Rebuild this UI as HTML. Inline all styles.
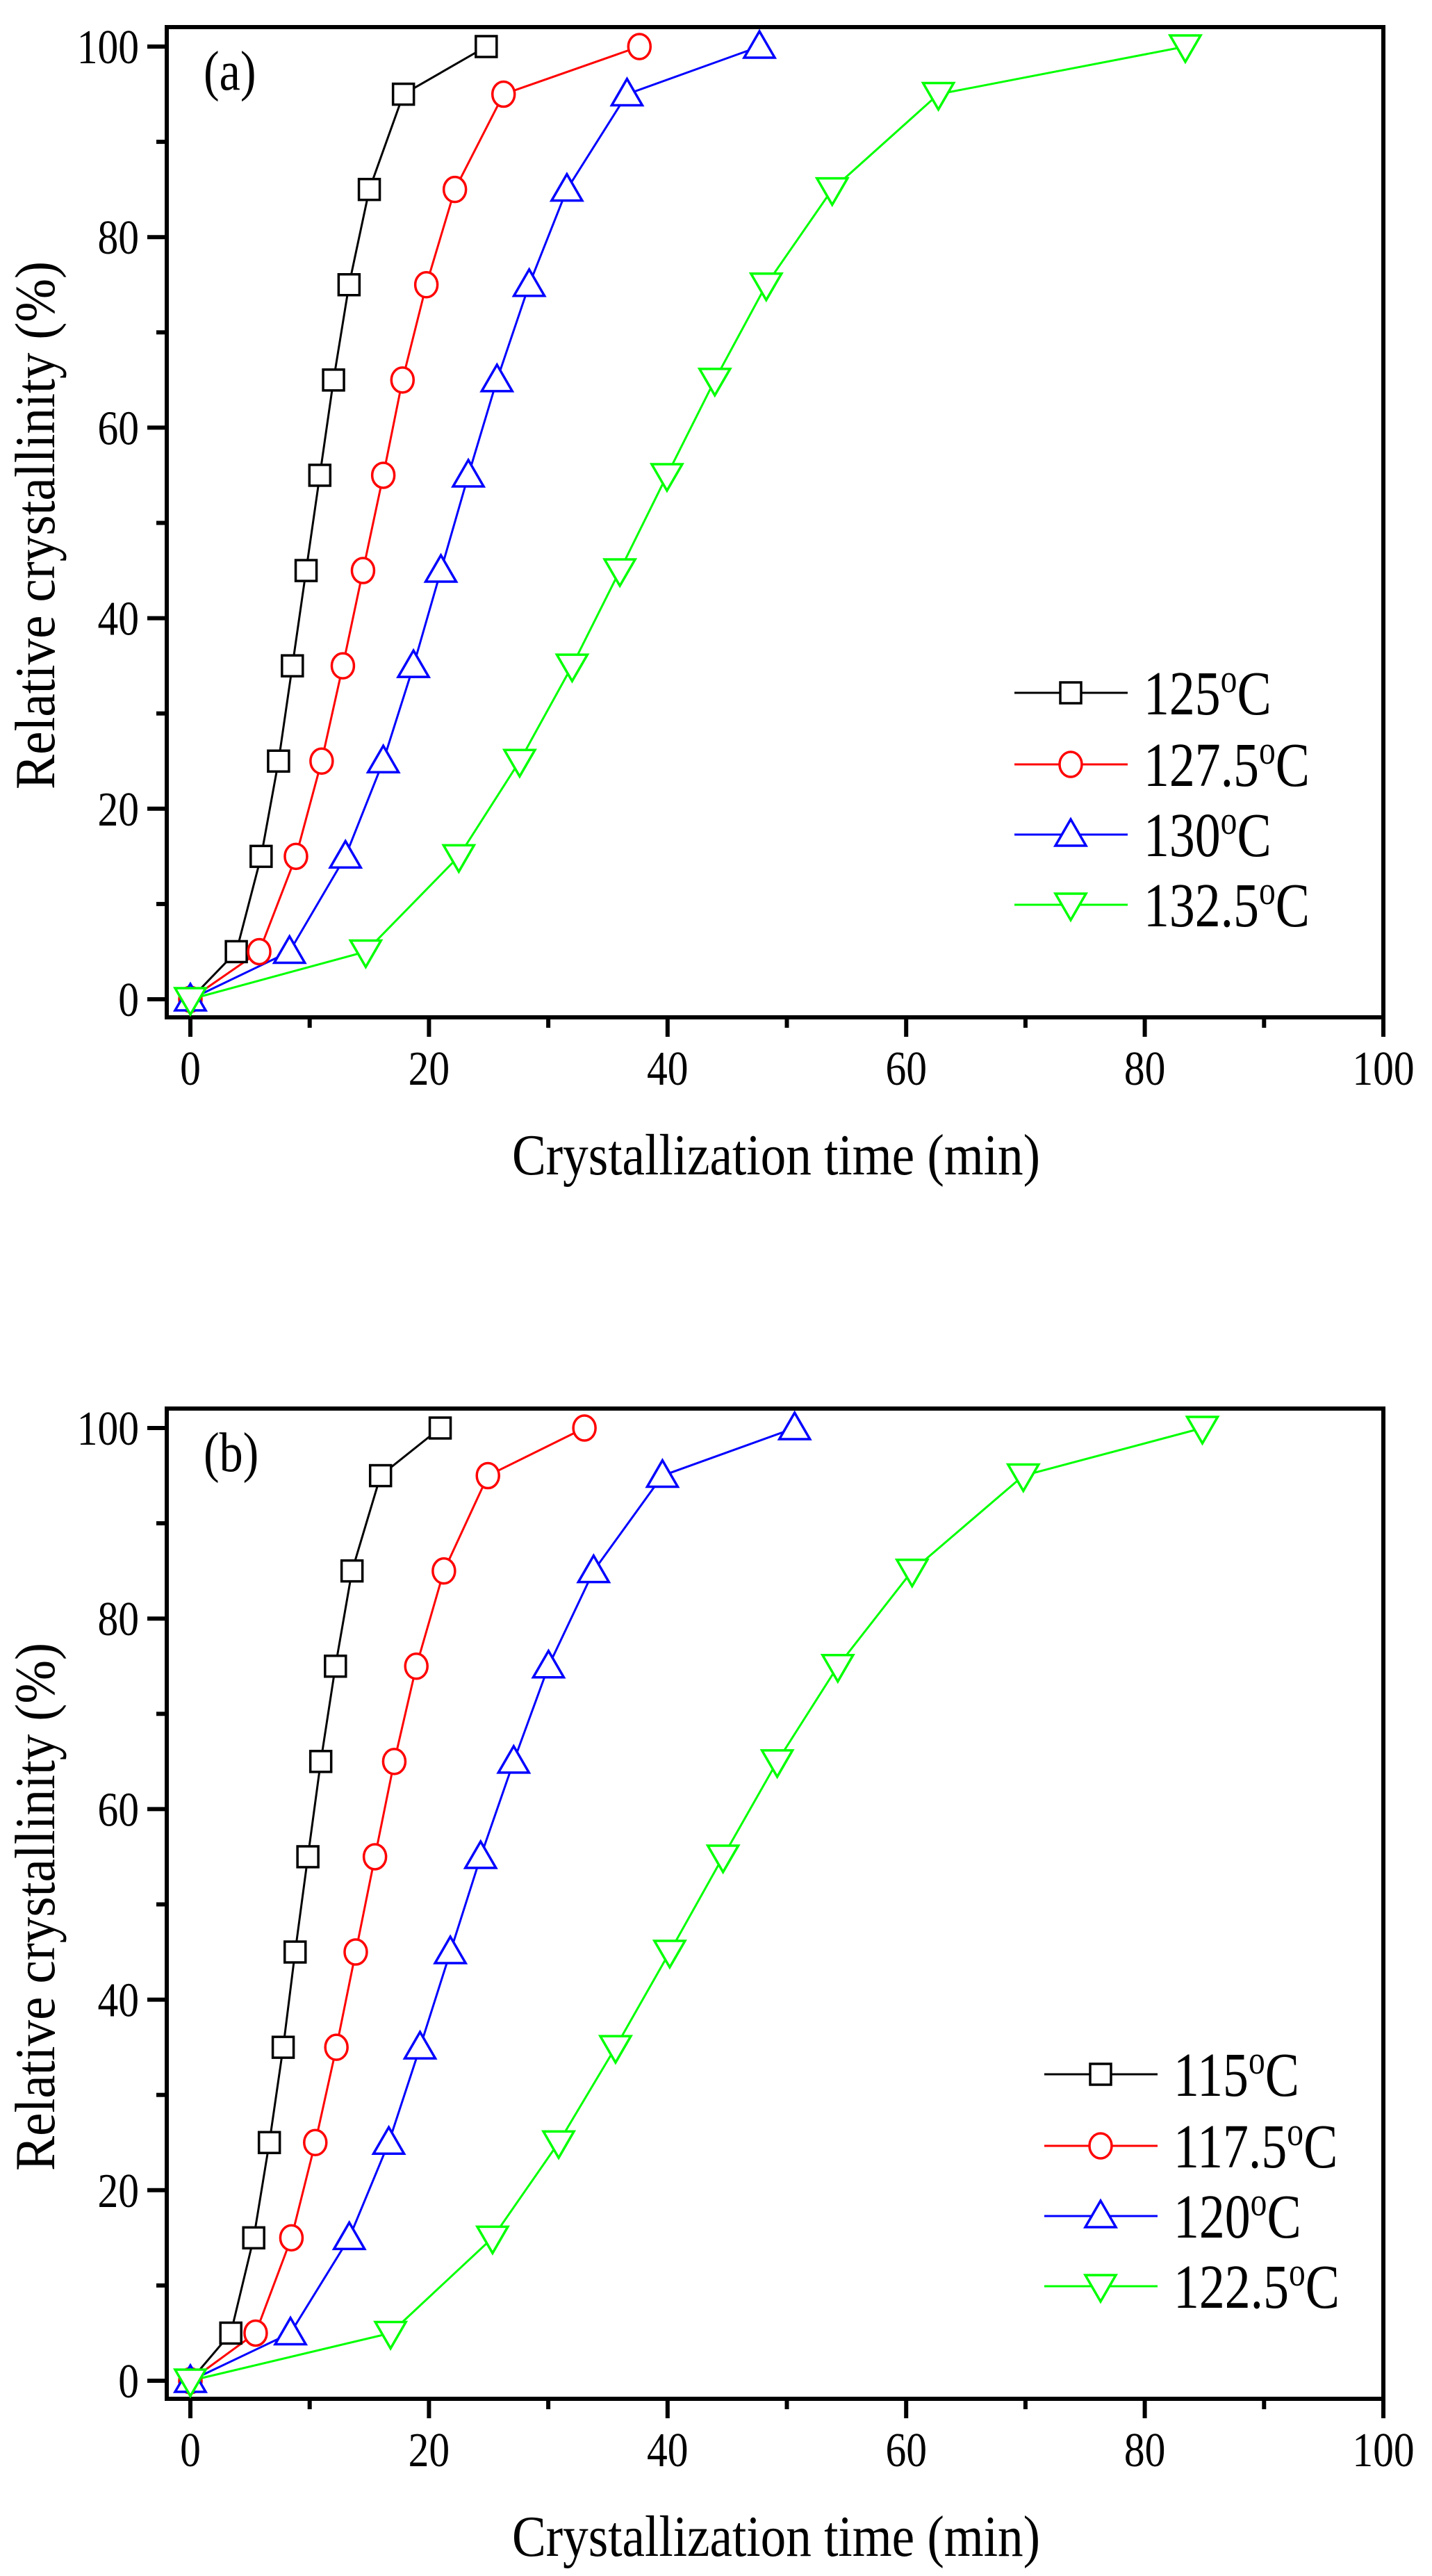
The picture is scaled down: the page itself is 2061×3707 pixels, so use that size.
<!DOCTYPE html>
<html><head><meta charset="utf-8"><style>
html,body{margin:0;padding:0;background:#fff;}
svg{display:block;}
text{font-family:"Liberation Serif",serif;fill:#000;}
</style></head><body>
<svg id="s" width="2061" height="3707" viewBox="0 0 2061 3707" xmlns="http://www.w3.org/2000/svg"></svg>
<script>
const NS="http://www.w3.org/2000/svg";
const s=document.getElementById('s');
function el(t,a,txt){const e=document.createElementNS(NS,t);for(const k in a)e.setAttribute(k,a[k]);if(txt!==undefined)e.textContent=txt;s.appendChild(e);return e;}
const X=t=>274+17.17*t;
const lv=[0,5,15,25,35,45,55,65,75,85,95,100];
const cols=['#000','#f00','#00f','#0f0'];
const panels=[
{off:0,lab:'(a)',leg:['125','127.5','130','132.5'],lx:1460,
 d:[[0,3.85,5.93,7.39,8.55,9.7,10.85,12.0,13.3,15.0,17.86,24.8],
    [0,5.77,8.85,11.0,12.78,14.47,16.17,17.78,19.78,22.17,26.25,37.64],
    [0,8.31,13.0,16.17,18.7,21.0,23.3,25.7,28.4,31.56,36.6,47.7],
    [0,14.7,22.5,27.6,32.0,36.0,39.95,43.96,48.27,53.8,62.7,83.4]]},
{off:1988,lab:'(b)',leg:['115','117.5','120','122.5'],lx:1503,
 d:[[0,3.39,5.31,6.62,7.78,8.78,9.85,10.93,12.16,13.55,15.94,20.94],
    [0,5.47,8.47,10.47,12.24,13.86,15.47,17.09,18.94,21.25,24.94,33.03],
    [0,8.39,13.32,16.63,19.25,21.79,24.33,27.1,30.02,33.8,39.57,50.65],
    [0,16.78,25.33,30.87,35.64,40.18,44.65,49.19,54.27,60.5,69.82,84.83]]}];
function marker(k,x,y){
 const st={fill:'#fff',stroke:cols[k],'stroke-width':3.5};
 if(k==0){el('rect',Object.assign({x:x-15,y:y-15,width:30,height:30},st));}
 else if(k==1){el('ellipse',Object.assign({cx:x,cy:y,rx:16,ry:18},st));}
 else if(k==2){el('polygon',Object.assign({points:`${x},${y-22} ${x-22},${y+16} ${x+22},${y+16}`},st));}
 else {el('polygon',Object.assign({points:`${x},${y+22} ${x-22},${y-16} ${x+22},${y-16}`},st));}
}
for(const p of panels){
 const o=p.off, Y=v=>1438-13.71*v+o;
 const top=39+o, bot=1464+o, L=240, R=1991;
 for(let t=0;t<=100;t+=10){const major=t%20==0;el('line',{x1:X(t),x2:X(t),y1:bot,y2:bot+(major?28:15),stroke:'#000','stroke-width':6});
  if(major)el('text',{x:0,y:0,'font-size':70,'text-anchor':'middle',transform:`translate(${X(t)},${1561+o}) scale(0.85,1)`},String(t));}
 for(let v=0;v<=100;v+=10){const major=v%20==0;el('line',{x1:L,x2:L-(major?28:15),y1:Y(v),y2:Y(v),stroke:'#000','stroke-width':6});
  if(major)el('text',{x:0,y:0,'font-size':70,'text-anchor':'end',transform:`translate(200,${Y(v)+24}) scale(0.85,1)`},String(v));}
 el('rect',{x:L,y:top,width:R-L,height:bot-top,fill:'none',stroke:'#000','stroke-width':6});
 el('text',{x:0,y:0,'font-size':80,transform:`translate(293,${129+o}) scale(0.85,1)`},p.lab);
 el('text',{x:1117,y:1690+o,'font-size':84,'text-anchor':'middle',textLength:760,lengthAdjust:'spacingAndGlyphs'},'Crystallization time (min)');
 el('text',{x:0,y:0,'font-size':82,'text-anchor':'middle',textLength:760,lengthAdjust:'spacingAndGlyphs',transform:`translate(78,${756+o}) rotate(-90)`},'Relative crystallinity (%)');
 for(let k=0;k<4;k++){
  const pts=p.d[k].map((t,i)=>`${X(t)},${Y(lv[i])}`).join(' ');
  el('polyline',{points:pts,fill:'none',stroke:cols[k],'stroke-width':3});
 }
 for(let k=0;k<4;k++)p.d[k].forEach((t,i)=>marker(k,X(t),Y(lv[i])));
 const ry=[997,1100,1201,1302];
 for(let k=0;k<4;k++){const y=ry[k]+o;
  el('line',{x1:p.lx,x2:p.lx+163,y1:y,y2:y,stroke:cols[k],'stroke-width':3});
  marker(k,p.lx+81,y);
  const t=el('text',{x:0,y:0,'font-size':90,transform:`translate(${p.lx+186},${y+31}) scale(0.82,1)`});
  const a=document.createElementNS(NS,'tspan');a.textContent=p.leg[k];t.appendChild(a);
  const b=document.createElementNS(NS,'tspan');b.textContent='o';b.setAttribute('dy',-32);b.setAttribute('font-size',58);t.appendChild(b);
  const c=document.createElementNS(NS,'tspan');c.textContent='C';c.setAttribute('dy',32);t.appendChild(c);
 }
}
</script>
</body></html>
